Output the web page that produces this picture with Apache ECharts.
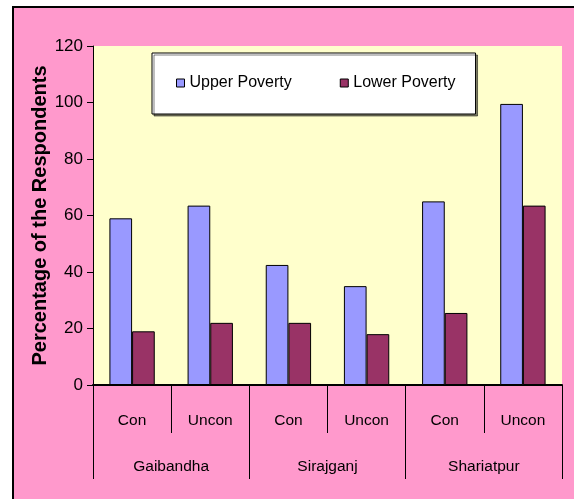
<!DOCTYPE html>
<html>
<head>
<meta charset="utf-8">
<script src="https://cdn.jsdelivr.net/npm/echarts@6/dist/echarts.min.js"></script>
<style>
  html, body { margin: 0; padding: 0; background: #fff; overflow: hidden; }
  #frame { position: absolute; left: 12px; top: 6px; width: 600px; height: 600px;
           background: #FF99CC; border: 2px solid #000; }
  #chart { position: absolute; left: 0; top: 0; width: 574px; height: 499px; }
</style>
</head>
<body>
<div id="frame"></div>
<div id="chart"></div>
<script>
// sub categories (bottom row 1) and districts (row 2)
const categories = ['Con', 'Uncon', 'Con', 'Uncon', 'Con', 'Uncon'];
const districts = ['Gaibandha', 'Sirajganj', 'Shariatpur'];
const yTicks = [0, 20, 40, 60, 80, 100, 120];
// percentage values
const upperPoverty = [59, 63.5, 42.5, 35, 65, 99.5];
const lowerPoverty = [19, 22, 22, 18, 25.5, 63.5];

const font = '"Liberation Sans", Arial, sans-serif';
const myChart = echarts.init(document.getElementById('chart'));

const option = {
  backgroundColor: 'transparent',
  animation: false,
  textStyle: { fontFamily: font, color: '#000' },
  grid: {
    left: 93, right: 12, top: 46, bottom: 114,
    show: true, backgroundColor: '#FFFFCC', borderWidth: 0
  },
  legend: {
    left: 152, top: 53,
    padding: [22, 20, 23, 24],
    itemGap: 48,
    itemWidth: 8, itemHeight: 8,
    icon: 'rect',
    backgroundColor: '#fff',
    borderColor: '#000', borderWidth: 1,
    shadowColor: 'rgba(0,0,0,0.5)', shadowOffsetX: 2, shadowOffsetY: 2, shadowBlur: 0,
    itemStyle: { borderColor: '#000', borderWidth: 1 },
    textStyle: { fontFamily: font, fontSize: 16, color: '#000' },
    data: ['Upper Poverty', 'Lower Poverty']
  },
  xAxis: [
    {
      type: 'category',
      data: categories,
      axisLine: { lineStyle: { color: '#000', width: 2 } },
      axisTick: { show: true, interval: 0, length: 48, lineStyle: { color: '#000' } },
      axisLabel: { margin: 28, fontSize: 15.5, color: '#000', fontFamily: font }
    },
    {
      type: 'category',
      data: districts,
      position: 'bottom',
      axisLine: { show: false },
      axisTick: { show: true, interval: 0, length: 94, lineStyle: { color: '#000' } },
      axisLabel: { margin: 74, fontSize: 15.5, color: '#000', fontFamily: font }
    }
  ],
  yAxis: {
    type: 'value',
    min: yTicks[0], max: yTicks[yTicks.length - 1], interval: 20,
    name: 'Percentage of the Respondents',
    nameLocation: 'middle',
    nameGap: 43,
    nameMoveOverlap: false,
    nameTextStyle: { fontFamily: font, fontSize: 20, fontWeight: 'bold', color: '#000' },
    axisLine: { show: true, lineStyle: { color: '#000' } },
    axisTick: { show: true, length: 6, lineStyle: { color: '#000' } },
    axisLabel: { margin: 10, fontSize: 17, color: '#000', fontFamily: font },
    splitLine: { show: false }
  },
  series: [
    {
      name: 'Upper Poverty',
      type: 'bar',
      data: upperPoverty,
      barGap: '0%',
      barCategoryGap: '42%',
      itemStyle: { color: '#9999FF', borderColor: '#000', borderWidth: 1 }
    },
    {
      name: 'Lower Poverty',
      type: 'bar',
      data: lowerPoverty,
      itemStyle: { color: '#993366', borderColor: '#000', borderWidth: 1 }
    }
  ]
};

myChart.setOption(option);
</script>
</body>
</html>
